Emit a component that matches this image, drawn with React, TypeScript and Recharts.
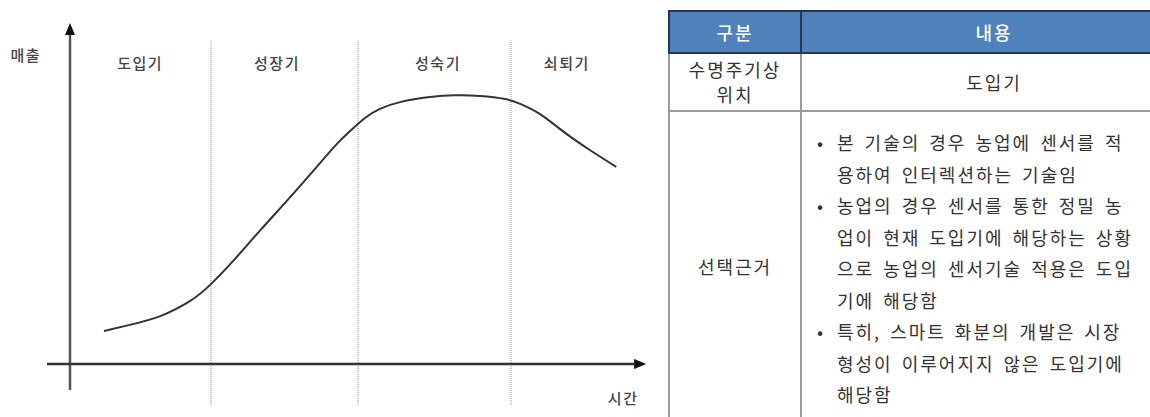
import { ComposedChart, Line, ReferenceLine, Scatter, XAxis, YAxis } from "recharts";

// product life cycle curve (time vs sales, arbitrary units)
const lifeTime = [5.9, 10.4, 15.7, 20.9, 24.5, 28.7, 33, 37.4, 41.7, 46.1, 48.7, 51.3, 53.9, 57.4, 62.6, 67, 71.3, 75.7, 78.3, 81.7, 85.7, 90.4, 95];
const lifeSales = [9.8, 11.6, 14.2, 18.7, 23.7, 31.2, 39.5, 47.8, 56.1, 64.7, 69.1, 73, 75.7, 77.7, 79.2, 79.7, 79.5, 78.6, 77.2, 74.2, 69.1, 63.5, 58.5];

const stageNames = ["도입기", "성장기", "성숙기", "쇠퇴기"];
const stageLabelTime = [12.2, 36, 64, 86.4];
const stageLabelSales = 89.5;
const stageBounds = [24.5, 50.1, 76.7];
const stageBoundSpan = [-12.2, 96];

const axisNames = ["매출", "시간"];
const axisNameTime = [-7.7, 96.2];
const axisNameSales = [91.7, -10.1];

const yAxisSpan = [-7.7, 101.2];
const xAxisSpan = [-4, 100.2];

const tableHeader = ["구분", "내용"];
const positionLabel = ["수명주기상", "위치"];
const positionValue = "도입기";
const reasonLabel = "선택근거";
const reasonItems = [
  ["본 기술의 경우 농업에 센서를 적", "용하여 인터렉션하는 기술임"],
  [
    "농업의 경우 센서를 통한 정밀 농",
    "업이 현재 도입기에 해당하는 상황",
    "으로 농업의 센서기술 적용은 도입",
    "기에 해당함",
  ],
  ["특히, 스마트 화분의 개발은 시장", "형성이 이루어지지 않은 도입기에", "해당함"],
];

const curve = lifeTime.map((t, i) => ({ time: t, sales: lifeSales[i] }));
const stageLabels = stageNames.map((name, i) => ({ time: stageLabelTime[i], sales: stageLabelSales, name }));
const axisLabels = axisNames.map((name, i) => ({ time: axisNameTime[i], sales: axisNameSales[i], name }));

const FONT = '"Noto Sans CJK KR", "Noto Sans", sans-serif';

const Arrow = (props: any) => {
  const { x1, y1, x2, y2, stroke, strokeWidth } = props;
  const dx = x2 - x1;
  const dy = y2 - y1;
  const len = Math.sqrt(dx * dx + dy * dy) || 1;
  const ux = dx / len;
  const uy = dy / len;
  const head = 12;
  const half = 5;
  const bx = x2 - ux * head;
  const by = y2 - uy * head;
  const pts = `${x2},${y2} ${bx - uy * half},${by + ux * half} ${bx + uy * half},${by - ux * half}`;
  return (
    <g>
      <line x1={x1} y1={y1} x2={bx + ux * 2} y2={by + uy * 2} stroke={stroke} strokeWidth={strokeWidth} />
      <polygon points={pts} fill="#111" />
    </g>
  );
};

const TextMark = (props: any) => {
  const { cx, cy, payload } = props;
  return (
    <text
      x={cx}
      y={cy}
      textAnchor="middle"
      dominantBaseline="central"
      fontFamily={FONT}
      fontSize={15}
      fontWeight={500}
      letterSpacing={1.5}
      fill="#444"
    >
      {payload.name}
    </text>
  );
};

const LifeCycleChart = () => (
  <ComposedChart width={660} height={417} margin={{ top: 0, right: 3.5, bottom: 2.49, left: 1 }}>
    <XAxis type="number" dataKey="time" domain={[-12, 102]} allowDataOverflow hide />
    <YAxis type="number" dataKey="sales" domain={[-15, 108]} allowDataOverflow hide />
    {stageBounds.map((t) => (
      <ReferenceLine
        key={t}
        segment={[
          { x: t, y: stageBoundSpan[0] },
          { x: t, y: stageBoundSpan[1] },
        ]}
        stroke="#8a8a8a"
        strokeDasharray="1 1"
        strokeWidth={1}
        ifOverflow="visible"
      />
    ))}
    <ReferenceLine
      segment={[
        { x: 0, y: yAxisSpan[0] },
        { x: 0, y: yAxisSpan[1] },
      ]}
      stroke="#555"
      strokeWidth={2.5}
      ifOverflow="visible"
      shape={Arrow}
    />
    <ReferenceLine
      segment={[
        { x: xAxisSpan[0], y: 0 },
        { x: xAxisSpan[1], y: 0 },
      ]}
      stroke="#333"
      strokeWidth={2.5}
      ifOverflow="visible"
      shape={Arrow}
    />
    <Line
      data={curve}
      dataKey="sales"
      type="natural"
      stroke="#333"
      strokeWidth={2}
      dot={false}
      isAnimationActive={false}
    />
    <Scatter data={stageLabels} dataKey="sales" shape={TextMark} isAnimationActive={false} />
    <Scatter data={axisLabels} dataKey="sales" shape={TextMark} isAnimationActive={false} />
  </ComposedChart>
);

const headBorder = "2px solid #2a3550";
const bodyBorder = "2px solid #9a9a9a";

const cellText: React.CSSProperties = {
  fontFamily: FONT,
  fontSize: 18,
  color: "#333",
  letterSpacing: 2,
  padding: 0,
};

const InfoTable = () => (
  <table
    style={{
      position: "absolute",
      left: 668,
      top: 10,
      borderCollapse: "collapse",
      tableLayout: "fixed",
      width: 518,
    }}
  >
    <colgroup>
      <col style={{ width: 132 }} />
      <col style={{ width: 386 }} />
    </colgroup>
    <tbody>
      <tr style={{ height: 42 }}>
        {tableHeader.map((h) => (
          <td
            key={h}
            style={{
              ...cellText,
              background: "#4f81bd",
              color: "#fff",
              fontWeight: 500,
              textAlign: "center",
              border: headBorder,
            }}
          >
            {h}
          </td>
        ))}
      </tr>
      <tr style={{ height: 58 }}>
        <td style={{ ...cellText, textAlign: "center", lineHeight: "25px", border: bodyBorder, borderTop: headBorder }}>
          {positionLabel.map((s) => (
            <div key={s}>{s}</div>
          ))}
        </td>
        <td style={{ ...cellText, textAlign: "center", border: bodyBorder, borderTop: headBorder }}>{positionValue}</td>
      </tr>
      <tr style={{ height: 310 }}>
        <td style={{ ...cellText, textAlign: "center", border: bodyBorder }}>{reasonLabel}</td>
        <td
          style={{
            ...cellText,
            border: bodyBorder,
            verticalAlign: "top",
            paddingTop: 15,
            paddingLeft: 35,
            lineHeight: "31.5px",
            wordSpacing: 3,
          }}
        >
          {reasonItems.map((lines, i) => (
            <div key={i} style={{ position: "relative" }}>
              <span style={{ position: "absolute", left: -20, top: 0 }}>•</span>
              {lines.map((l) => (
                <div key={l} style={{ whiteSpace: "nowrap" }}>
                  {l}
                </div>
              ))}
            </div>
          ))}
        </td>
      </tr>
    </tbody>
  </table>
);

export default function App() {
  return (
    <div
      style={{
        position: "absolute",
        left: 0,
        top: 0,
        width: 1150,
        height: 417,
        overflow: "hidden",
        background: "#fff",
      }}
    >
      <LifeCycleChart />
      <InfoTable />
    </div>
  );
}
